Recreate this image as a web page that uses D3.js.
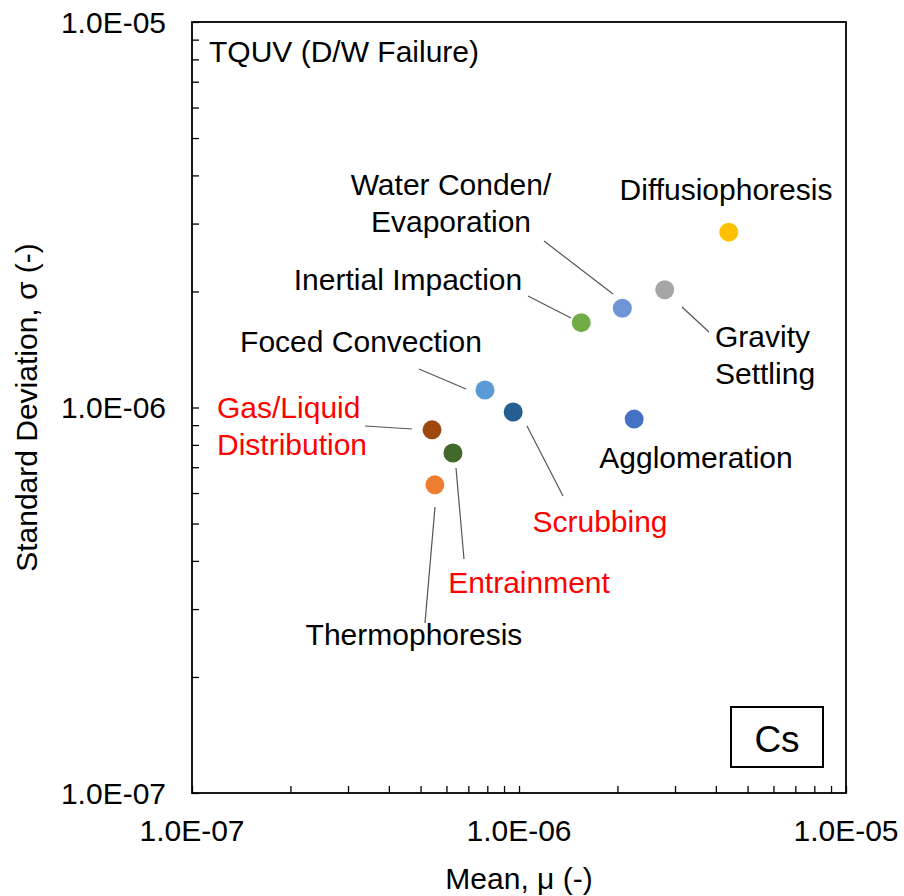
<!DOCTYPE html>
<html>
<head>
<meta charset="utf-8">
<script src="https://cdn.jsdelivr.net/npm/d3@7"></script>
<style>
  html, body { margin: 0; padding: 0; background: #fff; }
  text { font-family: "Liberation Sans", Arial, sans-serif; }
</style>
</head>
<body>
<svg id="chart" width="904" height="896"></svg>
<script>
// Sensitivity results for Cs, TQUV (D/W failure) sequence
const phenomena = [
  "Diffusiophoresis", "Gravity Settling", "Water Conden/ Evaporation",
  "Inertial Impaction", "Foced Convection", "Scrubbing", "Agglomeration",
  "Gas/Liquid Distribution", "Entrainment", "Thermophoresis"
];
const meanValues = [4.38e-6, 2.79e-6, 2.07e-6, 1.55e-6, 7.87e-7, 9.6e-7, 2.25e-6, 5.42e-7, 6.28e-7, 5.53e-7];
const sdValues   = [2.85e-6, 2.02e-6, 1.81e-6, 1.66e-6, 1.11e-6, 9.73e-7, 9.33e-7, 8.75e-7, 7.62e-7, 6.30e-7];
const tickValues = [1e-7, 1e-6, 1e-5];
const tickLabels = ["1.0E-07", "1.0E-06", "1.0E-05"];

const pointColors = ["#FFC000", "#A5A5A5", "#6E95D6", "#70AD47", "#5B9BD5",
                     "#255E91", "#4472C4", "#9E480E", "#43682B", "#ED7D31"];
const redLabels = new Set(["Scrubbing", "Gas/Liquid Distribution", "Entrainment"]);

// label text lines, anchor, position and leader line (pixels)
const labelLayout = {
  "Diffusiophoresis":          { lines: ["Diffusiophoresis"], anchor: "middle", x: 726, y: 200, leader: null },
  "Gravity Settling":          { lines: ["Gravity", "Settling"], anchor: "start", x: 715, y: 347, leader: [682, 307, 709, 332] },
  "Water Conden/ Evaporation": { lines: ["Water Conden/", "Evaporation"], anchor: "middle", x: 451, y: 195, leader: [544, 241, 613, 294] },
  "Inertial Impaction":        { lines: ["Inertial Impaction"], anchor: "middle", x: 408, y: 290, leader: [528, 296, 571, 318] },
  "Foced Convection":          { lines: ["Foced Convection"], anchor: "middle", x: 361, y: 352, leader: [419, 369, 466, 389] },
  "Scrubbing":                 { lines: ["Scrubbing"], anchor: "middle", x: 600, y: 532, leader: [527, 426, 563, 496] },
  "Agglomeration":             { lines: ["Agglomeration"], anchor: "middle", x: 696, y: 468, leader: null },
  "Gas/Liquid Distribution":   { lines: ["Gas/Liquid", "Distribution"], anchor: "start", x: 217, y: 418, leader: [365, 426, 412, 429] },
  "Entrainment":               { lines: ["Entrainment"], anchor: "middle", x: 529, y: 593, leader: [456, 468, 464, 559] },
  "Thermophoresis":            { lines: ["Thermophoresis"], anchor: "middle", x: 414, y: 645, leader: [435, 507, 425, 623] }
};

const svg = d3.select("#chart");
const plotLeft = 192, plotRight = 846, plotTop = 22, plotBottom = 793;

const x = d3.scaleLog().domain([1e-7, 1e-5]).range([plotLeft, plotRight]);
const y = d3.scaleLog().domain([1e-7, 1e-5]).range([plotBottom, plotTop]);

const allTicks = [];
for (const dec of [1e-7, 1e-6]) for (let k = 1; k <= 9; k++) allTicks.push(k * dec);
allTicks.push(1e-5);

// inward ticks on the bottom and left axes
const tickLen = 7;
const xAxis = d3.axisTop(x).tickValues(allTicks).tickSize(tickLen).tickFormat("");
const yAxis = d3.axisRight(y).tickValues(allTicks).tickSize(tickLen).tickFormat("");

svg.append("g").attr("transform", `translate(0,${plotBottom})`).call(xAxis)
  .call(g => g.select(".domain").remove())
  .call(g => g.selectAll("line").attr("stroke", "#000").attr("stroke-width", 1.3));
svg.append("g").attr("transform", `translate(${plotLeft},0)`).call(yAxis)
  .call(g => g.select(".domain").remove())
  .call(g => g.selectAll("line").attr("stroke", "#000").attr("stroke-width", 1.3));

// frame
svg.append("rect")
  .attr("x", plotLeft).attr("y", plotTop)
  .attr("width", plotRight - plotLeft).attr("height", plotBottom - plotTop)
  .attr("fill", "none").attr("stroke", "#000").attr("stroke-width", 1.8);

// tick labels
const fs = 30;
svg.append("g").selectAll("text").data(tickValues).join("text")
  .attr("x", d => x(d)).attr("y", 841)
  .attr("text-anchor", "middle").attr("font-size", fs)
  .text((d, i) => tickLabels[i]);
svg.append("g").selectAll("text").data(tickValues).join("text")
  .attr("x", 166).attr("y", d => y(d)).attr("dy", "0.35em")
  .attr("text-anchor", "end").attr("font-size", fs)
  .text((d, i) => tickLabels[i]);

// axis titles
svg.append("text").attr("x", 519).attr("y", 889)
  .attr("text-anchor", "middle").attr("font-size", fs).text("Mean, μ (-)");
svg.append("text").attr("transform", `translate(37,${(plotTop + plotBottom) / 2}) rotate(-90)`)
  .attr("text-anchor", "middle").attr("font-size", fs).text("Standard Deviation, σ (-)");

// scenario title
svg.append("text").attr("x", 209).attr("y", 62).attr("font-size", fs).text("TQUV (D/W Failure)");

// nuclide box
svg.append("rect").attr("x", 731).attr("y", 707).attr("width", 92).attr("height", 60)
  .attr("fill", "#fff").attr("stroke", "#000").attr("stroke-width", 2);
svg.append("text").attr("x", 777).attr("y", 752).attr("text-anchor", "middle")
  .attr("font-size", 37).text("Cs");

const data = phenomena.map((name, i) => ({
  name, mean: meanValues[i], sd: sdValues[i], color: pointColors[i]
}));

// leader lines
svg.append("g").selectAll("line")
  .data(data.filter(d => labelLayout[d.name].leader))
  .join("line")
  .attr("x1", d => labelLayout[d.name].leader[0]).attr("y1", d => labelLayout[d.name].leader[1])
  .attr("x2", d => labelLayout[d.name].leader[2]).attr("y2", d => labelLayout[d.name].leader[3])
  .attr("stroke", "#555").attr("stroke-width", 1.2);

// points
svg.append("g").selectAll("circle").data(data).join("circle")
  .attr("cx", d => x(d.mean)).attr("cy", d => y(d.sd)).attr("r", 9.5)
  .attr("fill", d => d.color);

// labels
const lineH = 37;
const lbl = svg.append("g").selectAll("text").data(data).join("text")
  .attr("font-size", fs)
  .attr("text-anchor", d => labelLayout[d.name].anchor)
  .attr("fill", d => redLabels.has(d.name) ? "#FF0000" : "#000");
lbl.each(function(d) {
  const L = labelLayout[d.name];
  d3.select(this).selectAll("tspan").data(L.lines).join("tspan")
    .attr("x", L.x).attr("y", (t, j) => L.y + j * lineH).text(t => t);
});
</script>
</body>
</html>
